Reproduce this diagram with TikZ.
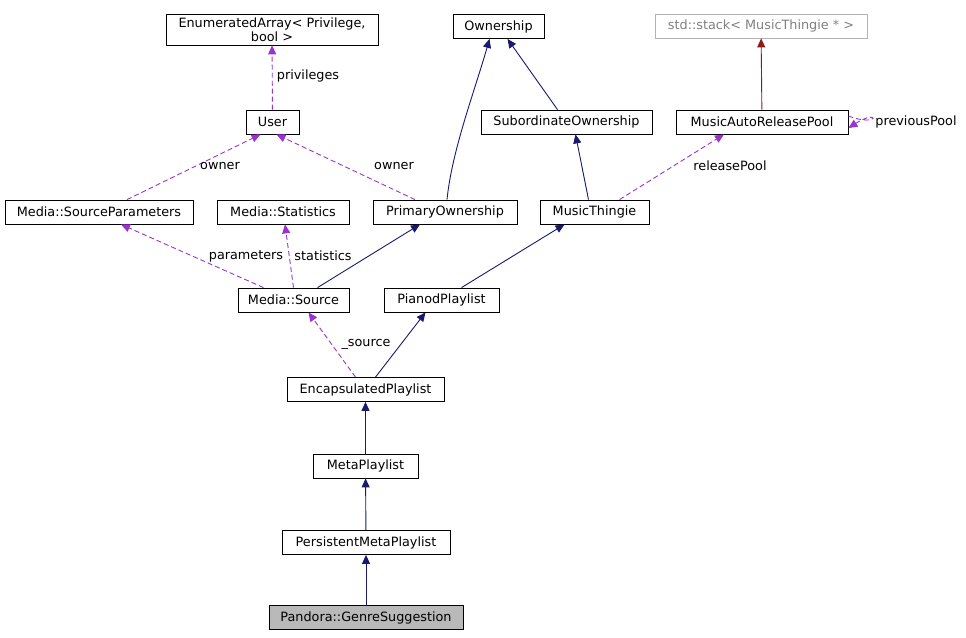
\documentclass[tikz,border=0pt]{standalone}
\usepackage{fontspec}
\setmainfont{DejaVu Sans}
\usetikzlibrary{arrows.meta}
\definecolor{nv}{HTML}{191970}
\definecolor{pu}{HTML}{9A32CD}
\definecolor{dr}{HTML}{8B1A1A}
\begin{document}
\begin{tikzpicture}[x=1pt,y=-1pt,
 box/.style={draw=black,line width=0.8pt,inner sep=0pt,minimum height=24pt,font=\fontsize{12.8}{14}\selectfont,align=center},
 inh/.style={nv,line width=0.9pt,-{Triangle[length=9pt,width=8pt]}},
 use/.style={pu,line width=0.9pt,dashed,dash pattern=on 5pt off 3pt,-{Triangle[length=9pt,width=8pt]}},
 tpl/.style={dr,line width=0.9pt,-{Triangle[length=9pt,width=8pt]}},
 lab/.style={font=\fontsize{12.8}{14}\selectfont,inner sep=1pt}]
\useasboundingbox (0,0) rectangle (966,637);
\node[box,minimum width=212pt,minimum height=31pt] (ea) at (272,29.5) {EnumeratedArray\textless{} Privilege,\\bool \textgreater};
\node[box,minimum width=91pt] (own) at (498.5,26.5) {Ownership};
\node[box,draw=gray!60,text=gray,minimum width=212pt] (stk) at (761,26) {std::stack\textless{} MusicThingie * \textgreater};
\node[box,minimum width=53pt] (user) at (272.5,122) {User};
\node[box,minimum width=171pt] (sub) at (566.5,122) {SubordinateOwnership};
\node[box,minimum width=172pt] (pool) at (762,122) {MusicAutoReleasePool};
\node[box,minimum width=188pt] (sp) at (99,212) {Media::SourceParameters};
\node[box,minimum width=132pt] (st) at (283,212) {Media::Statistics};
\node[box,minimum width=144pt] (po) at (445,212) {PrimaryOwnership};
\node[box,minimum width=109pt] (mt) at (594.5,212) {MusicThingie};
\node[box,minimum width=111pt] (src) at (293.5,300) {Media::Source};
\node[box,minimum width=115pt] (pp) at (441.5,300) {PianodPlaylist};
\node[box,minimum width=157pt] (enc) at (365.5,389.5) {EncapsulatedPlaylist};
\node[box,minimum width=105pt] (meta) at (365.5,466) {MetaPlaylist};
\node[box,minimum width=168pt] (pers) at (366,542.5) {PersistentMetaPlaylist};
\node[box,fill=gray!55,minimum width=194pt] (gs) at (366,617.5) {Pandora::GenreSuggestion};

\draw[inh] (gs) -- (pers);
\draw[inh] (pers) -- (meta);
\draw[inh] (meta) -- (enc);
\draw[inh] ([xshift=10pt]enc.north) -- ([xshift=-16pt]pp.south);
\draw[use] ([xshift=-10pt]enc.north) -- ([xshift=15pt]src.south);
\node[lab] (l1) at (366,344) {\_source};
\draw[inh] ([xshift=24pt]src.north) -- ([xshift=-25pt]po.south);
\draw[use] (src.north) -- ([xshift=2pt]st.south);
\node[lab] (l2) at (323,256) {statistics};
\draw[use] ([xshift=-30pt]src.north) -- ([xshift=22pt]sp.south);
\node[lab] (l3) at (246,256) {parameters};
\draw[inh] ([xshift=20pt]pp.north) -- ([xshift=-30pt]mt.south);
\draw[use] ([xshift=28pt]sp.north) -- ([xshift=-12pt]user.south);
\node[lab] (l4) at (220,166) {owner};
\draw[use] ([xshift=-30pt]po.north) -- ([xshift=4pt]user.south);
\node[lab] (l5) at (394,166) {owner};
\draw[inh] ([xshift=2pt]po.north) .. controls (452,150) and (475,90) .. ([xshift=-9pt]own.south);
\draw[inh] ([xshift=-9pt]sub.north) -- ([xshift=9pt]own.south);
\draw[inh] ([xshift=-6pt]mt.north) -- ([xshift=9pt]sub.south);
\draw[use] ([xshift=25pt]mt.north) -- ([xshift=-38pt]pool.south);
\node[lab] (l6) at (730,166) {releasePool};
\draw[tpl] (pool) -- (stk);
\draw[use] ([yshift=6pt]pool.east) .. controls (880,128) and (880,108) .. ([yshift=-6pt]pool.east);
\node[lab] (l7) at (916,122) {previousPool};
\draw[use] (user) -- (ea);
\node[lab] (l8) at (308,76) {privileges};
\end{tikzpicture}
\end{document}
